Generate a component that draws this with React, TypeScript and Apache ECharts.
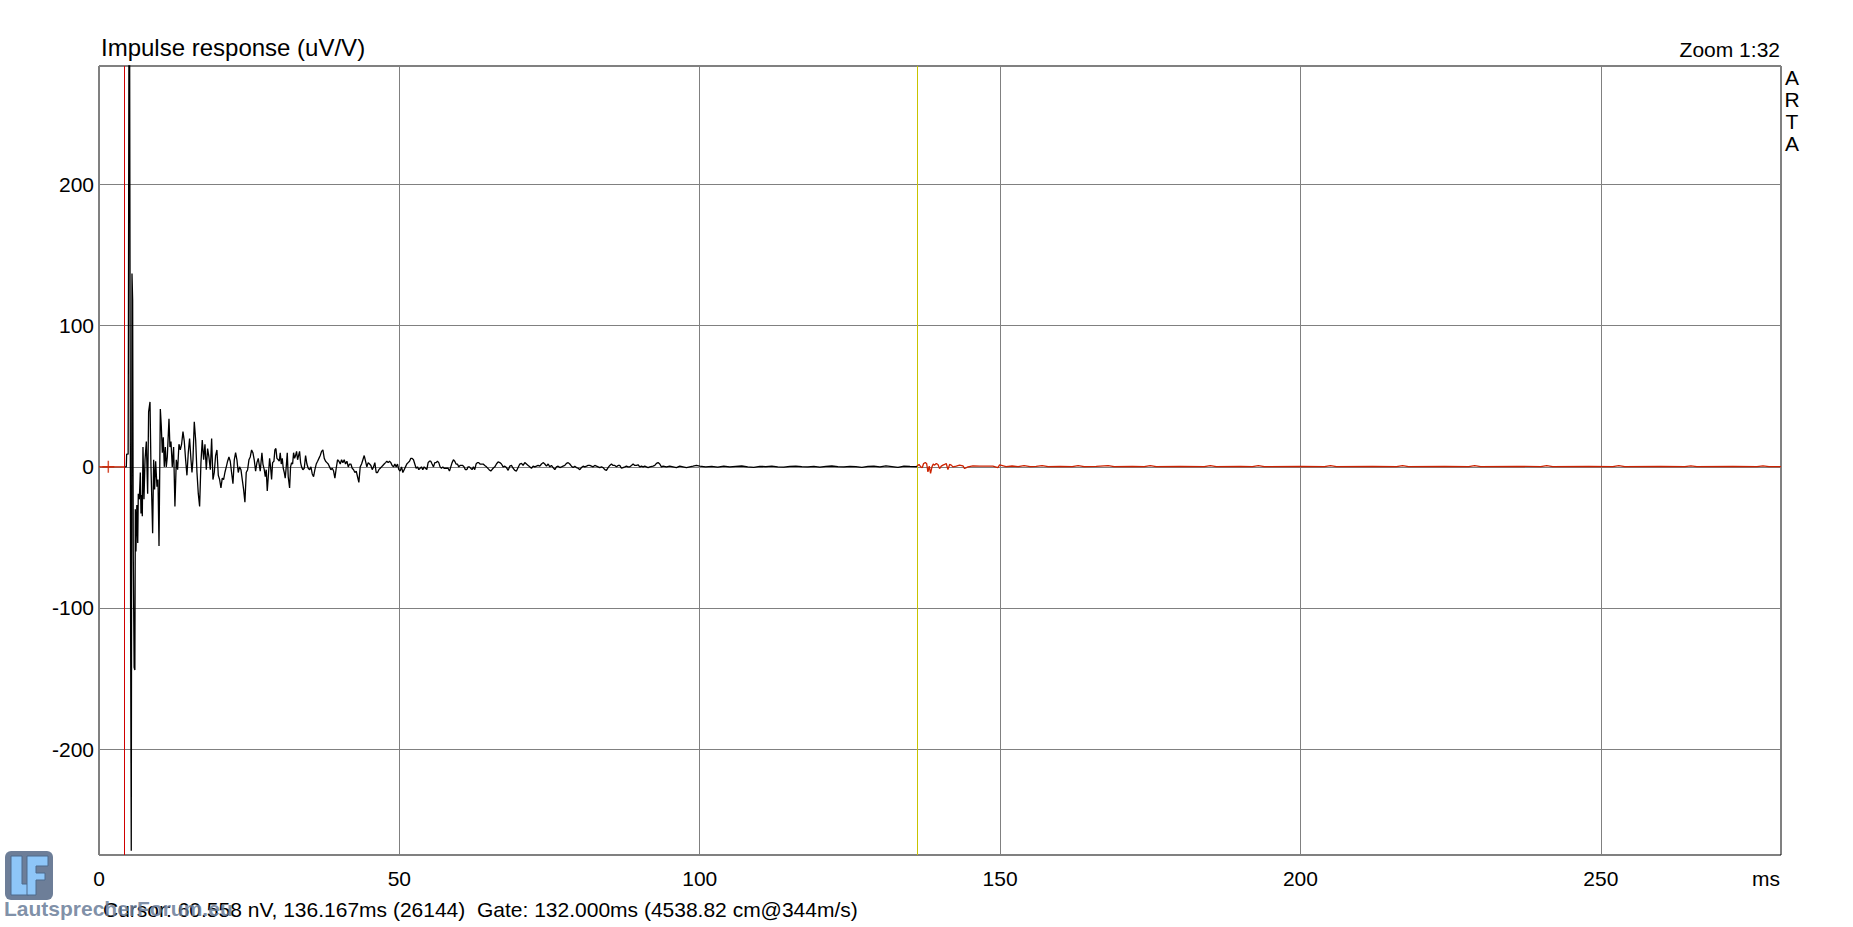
import React, { useEffect, useRef } from "react";
import * as echarts from "echarts";

// ---- axes ----
const X_MIN = 0;
const X_MAX = 280;
const X_INTERVAL = 50;
const Y_MIN = -275;
const Y_MAX = 284;

// ---- markers (ms) ----
const gateStartMs = 4.167;
const cursorMs = 136.167;
const crossMarker: [number, number][] = [[1.55, 0]];

// ---- texts ----
const titleText = "Impulse response (uV/V)";
const zoomText = "Zoom 1:32";
const unitText = "ms";
const brandText = "A\nR\nT\nA";
const footerText = "Cursor: 60.558 nV, 136.167ms (26144)  Gate: 132.000ms (4538.82 cm@344m/s)";
const watermarkText = "LautsprecherForum.eu";

// ---- data: [ms, uV/V] ----
const preGate: [number, number][] = [[0, 0], [4.167, 0]];

const onset: [number, number][] = [
  [4.167, 0], [4.55, 0], [4.6, 9], [4.85, 9], [4.9, 97], [5.04, 450], [5.15, 450],
  [5.27, -124], [5.37, -272], [5.49, 137], [5.6, 118], [5.7, -60], [5.85, -142],
  [5.97, -144], [6.05, -30], [6.15, -60], [6.3, -27], [6.45, -54],
];

const decayA: [number, number][] = [
  [6.54, -19], [6.71, -23], [6.88, -4], [6.99, -33], [7.10, -20], [7.21, -35], [7.32, 14],
  [7.49, -23], [7.66, 5], [7.88, 18], [8.10, -19], [8.26, 39], [8.49, 46], [8.65, 0],
  [8.82, -28], [8.93, -47], [9.10, 5], [9.26, -16], [9.43, 4], [9.65, -14], [9.82, -9],
  [9.99, -56], [10.21, 41], [10.37, 29], [10.54, 10], [10.70, 21], [10.87, 0], [11.04, 14],
  [11.20, 0], [11.37, 7], [11.65, 34], [11.81, 14], [11.98, 18], [12.20, 0], [12.42, 14],
  [12.64, -28], [12.87, 5], [13.09, -2], [13.31, 16], [13.53, 12], [13.75, 16], [13.98, 25],
  [14.20, 18], [14.42, 5], [14.64, -6], [14.86, 10], [15.08, 20], [15.31, 5], [15.48, -4],
  [15.64, 5], [15.86, 32], [16.09, 19], [16.31, -4], [16.53, -19], [16.75, -28], [16.97, 3],
  [17.19, 19], [17.42, 5], [17.64, 16], [17.86, -2], [18.08, 13], [18.30, 7], [18.53, -2],
  [18.75, 20], [18.97, -9], [19.19, -4], [19.41, 8], [19.63, 12], [19.86, -6], [20.08, -9],
  [20.30, -15], [20.52, -8], [20.74, -9], [20.96, -4], [21.19, 0], [21.41, 4], [21.63, 7],
  [21.85, 4], [22.07, -4], [22.30, -12], [22.52, 5], [22.74, 10], [22.96, 5], [23.18, -4],
  [23.40, 0], [23.63, -2], [23.85, -9], [24.07, -16], [24.29, -25], [24.51, -4], [24.74, -2],
  [24.96, 5], [25.18, 7], [25.40, 12], [25.62, 10], [25.84, 5],
];

const decayB: [number, number][] = [
  [26.07, -3], [26.29, 3], [26.51, 6], [26.84, -3], [27.12, 10], [27.29, 2], [27.51, -2],
  [27.68, -7], [27.84, -2], [28.01, -17], [28.18, -7], [28.40, 6], [28.56, 0], [28.73, -9],
  [28.90, 3], [29.12, 4], [29.28, 12], [29.45, 13], [29.62, 6], [29.84, 5], [30.01, 4],
  [30.17, 10], [30.34, 2], [30.51, 6], [30.67, -1], [30.84, -4], [31.00, -8], [31.17, 0],
  [31.34, 10], [31.50, -7], [31.73, -15], [31.89, 0], [32.06, 3], [32.23, 2], [32.39, 10],
  [32.56, 6], [32.72, 8], [32.89, 11], [33.06, 5], [33.22, 8], [33.39, 11], [33.56, 3],
  [33.72, 0], [33.94, -2], [34.17, -1], [34.39, 8], [34.61, 2], [34.83, -1], [35.06, -2],
  [35.28, 0], [35.50, -5], [35.72, -7], [35.94, -2], [36.16, 2], [36.39, 4], [36.61, 6],
  [36.83, 8], [37.05, 11], [37.27, 12], [37.50, 6], [37.72, 4], [37.94, 3], [38.16, 2],
  [38.38, 0], [38.60, -2], [38.83, -1], [39.05, -3], [39.27, -8], [39.49, -1], [39.71, 5],
  [39.94, 4], [40.16, 2], [40.38, 5], [40.60, 3], [40.82, 5], [41.04, 2], [41.27, 4],
  [41.49, 0], [41.71, 2], [41.93, 2], [42.15, -1], [42.38, -2], [42.60, -4], [42.82, -3],
  [43.04, -7], [43.26, -11], [43.48, 0], [43.71, 2], [43.93, 5], [44.15, 8], [44.37, 4],
  [44.59, 0], [44.81, 3], [45.04, 2], [45.26, 1], [45.48, -2], [45.70, 0], [45.92, 3],
  [46.14, -4], [46.37, -4], [46.59, -2], [46.81, -1], [47.03, 0], [47.25, 1], [47.47, 2],
  [47.70, 3], [47.92, 4], [48.14, 3], [48.36, 4], [48.58, 3], [48.80, 1], [49.03, 0],
  [49.25, 2], [49.47, 0], [49.69, 2], [49.91, -2], [50.13, -3], [50.36, 0], [50.58, -4],
  [50.80, -2], [51.02, 0], [51.24, 2], [51.46, 3], [51.69, 4], [51.91, 6], [52.13, 6],
  [52.35, 5], [52.57, 2], [52.79, -1], [53.02, 0], [53.24, -2], [53.46, -1], [53.68, 0],
  [53.90, -2], [54.12, 0], [54.35, -1], [54.57, -2], [54.79, 3], [55.01, 4], [55.23, 4],
  [55.45, 2], [55.68, 0], [55.90, 3], [56.12, 3], [56.34, 4], [56.56, 3], [56.78, 0],
  [57.01, -1], [57.23, 0], [57.45, -1], [57.67, -1], [57.89, -1], [58.11, -1], [58.34, -3],
  [58.56, 0], [58.78, 3], [59.00, 5], [59.22, 4], [59.44, 2], [59.67, 2], [59.89, 0],
  [60.11, 1], [60.33, 1], [60.55, 1], [60.77, 0], [61.00, -2], [61.22, -2], [61.44, 0],
  [61.66, 0], [61.88, -1], [62.10, -2], [62.33, 0], [62.55, -2], [62.77, 2], [62.99, 3],
  [63.21, 3], [63.43, 2],
];

const tailA: [number, number][] = [
  [63.95, 2], [64.22, 1], [64.50, 0], [64.94, -2], [65.22, -3], [65.61, -1], [65.89, 0],
  [66.16, 2], [66.44, 3.5], [66.72, 3], [67.00, 2], [67.27, 0], [67.55, 0.5], [67.83, -0.5],
  [68.11, -2.5], [68.38, 0.5], [68.66, 1], [68.94, -1], [69.22, -2.5], [69.49, -3],
  [69.77, -0.5], [70.05, 2], [70.33, 2.5], [70.60, 1], [70.88, 3], [71.16, 2], [71.44, 1],
  [71.71, 0], [71.99, -1], [72.27, 0.5], [72.55, 0], [72.82, 0.5], [73.10, 1], [73.38, 0.5],
  [73.66, 2], [73.93, 3], [74.21, 2], [74.49, 0.5], [74.77, 2], [75.04, 0], [75.32, 1],
  [75.60, -0.5], [75.88, -2], [76.15, 0], [76.43, 0.5], [76.71, -0.5], [76.99, 0], [77.26, 0.5],
  [77.54, 1], [77.82, 2.5], [78.10, 3], [78.37, 2], [78.65, 0.5], [78.93, -0.5], [79.20, 0.5],
  [79.48, -0.5], [79.76, -1], [80.04, -2], [80.31, -0.5], [80.59, 0.5], [80.87, 0], [81.15, 0.5],
  [81.42, 1], [81.70, 1], [81.98, 0.5], [82.26, 0], [82.53, 1], [82.81, 0.5], [83.09, 0],
  [83.36, -0.5], [83.64, 0], [83.92, -0.5], [84.20, -2], [84.47, -2.5], [84.75, -0.5],
  [85.03, 1], [85.31, 2], [85.58, 1], [85.86, 1], [86.14, 0], [86.42, 1], [86.69, 1],
  [86.97, -1], [87.25, -0.5], [87.53, 0], [87.80, 0.5], [88.08, 0], [88.36, 0], [88.64, 1],
  [88.91, 2], [89.19, 1], [89.47, 1], [89.74, 1.5], [90.02, 0], [90.30, 0.5], [90.58, 0],
  [90.85, 0.5], [91.13, 0], [91.41, -0.5], [91.69, 0], [92.24, 0.5], [92.52, 1], [92.80, 2.5],
  [93.07, 3], [93.35, 2], [93.63, 0], [93.91, 0.5], [94.46, 0], [95.01, 0.5], [95.57, 0],
  [96.12, -0.5], [96.68, 0.5], [97.23, 0], [97.79, -0.5], [98.34, 0], [98.90, 0.5],
  [99.45, 1], [100.0, 0.5],
];

const tailB: [number, number][] = [
  [101, 0], [102, 0.3], [103, -0.2], [104, 0.5], [105, 0], [106, 0.3], [107, 0.6], [108, 0],
  [109, -0.3], [110, 0.4], [111, 0.2], [112, 0.5], [113, 0], [114, -0.2], [115, 0.3],
  [116, 0.5], [117, 0.2], [118, 0], [119, 0.4], [120, -0.2], [121, 0.3], [122, 0.6],
  [123, 0.2], [124, 0], [125, 0.4], [126, 0.2], [127, -0.3], [128, 0.3], [129, 0.5],
  [130, 0], [131, 0.7], [132, 0.2], [133, -0.3], [134, 0.5], [135, 0.3], [136, 0.2],
  [136.167, 0.4],
];

const postGate: [number, number][] = [
  [136.167, 0.4], [136.5, 1.7], [136.8, 0], [137.05, -0.5], [137.27, 2.4], [137.55, 3],
  [137.77, 2.4], [137.99, -3.5], [138.21, 0.5], [138.43, -4.7], [138.66, 0], [138.88, 2],
  [139.10, 1.2], [139.38, 2.4], [139.66, 1.7], [139.93, -1.2], [140.21, 0.5], [140.49, 1.2],
  [140.77, 1.7], [141.04, 2.4], [141.32, -2], [141.60, 1.7], [141.88, 1.2], [142.15, 0],
  [142.71, 0.5], [143.26, 1.2], [143.82, 0.7], [144.1, -1.2], [144.65, 0], [145.48, 0.7],
  [146.59, 0.5], [147.70, 0.5], [148.81, 0.5], [149.64, -0.5], [149.92, 1.4], [151, 0.2],
  [152, 0.6], [153, 0.1], [154, 0.8], [155, 0.2], [156, 0.3], [157, 0.9], [158, 0.2],
  [160, 0.4], [162, 0.1], [163, 0.8], [164, 0.2], [166, 0.3], [168, 0.9], [169, 0.2],
  [172, 0.4], [174, 0.1], [175, 0.8], [176, 0.2], [180, 0.4], [184, 0.2], [185, 0.9],
  [186, 0.2], [190, 0.4], [192, 0.1], [193, 0.8], [194, 0.2], [200, 0.3], [204, 0.2],
  [205, 0.8], [206, 0.2], [212, 0.4], [216, 0.1], [217, 0.8], [218, 0.2], [224, 0.3],
  [228, 0.2], [229, 0.8], [230, 0.2], [236, 0.3], [240, 0.2], [241, 0.9], [242, 0.2],
  [248, 0.3], [252, 0.2], [253, 0.8], [254, 0.2], [260, 0.3], [264, 0.1], [265, 0.7],
  [266, 0.2], [272, 0.3], [276, 0.2], [277, 0.7], [278, 0.2], [280, 0.2],
];

const FONT = "'Liberation Sans', Arial, Helvetica, sans-serif";

function txt(x: number, y: number, text: string, size: number, align: string, valign: string, extra: any = {}) {
  return {
    type: "text",
    x,
    y,
    z: 100,
    style: {
      text,
      font: `${extra.weight || "normal"} ${size}px ${FONT}`,
      fill: extra.fill || "#000",
      opacity: extra.opacity ?? 1,
      align,
      textAlign: align,
      verticalAlign: valign,
      textVerticalAlign: valign,
      lineHeight: extra.lineHeight,
    },
  };
}

export default function App() {
  const ref = useRef<HTMLDivElement>(null);
  useEffect(() => {
    if (!ref.current) return;
    const chart = echarts.init(ref.current, null, { renderer: "svg" });
    const blackTrace = [...onset, ...decayA, ...decayB, ...tailA, ...tailB];
    const option: any = {
      animation: false,
      backgroundColor: "#ffffff",
      grid: {
        left: 99,
        top: 66,
        right: 72,
        bottom: 72,
        show: true,
        borderColor: "#000",
        borderWidth: 1,
        backgroundColor: "transparent",
        containLabel: false,
      },
      xAxis: {
        type: "value",
        min: X_MIN,
        max: X_MAX,
        interval: X_INTERVAL,
        axisLine: { show: false },
        axisTick: { show: false },
        axisLabel: {
          show: true,
          showMaxLabel: false,
          margin: 13,
          fontSize: 21,
          fontFamily: FONT,
          color: "#000",
        },
        splitLine: { show: true, lineStyle: { color: "#808080", width: 1 } },
      },
      yAxis: {
        type: "value",
        min: Y_MIN,
        max: Y_MAX,
        splitNumber: 5,
        axisLine: { show: false },
        axisTick: { show: false },
        axisLabel: {
          show: true,
          showMinLabel: false,
          showMaxLabel: false,
          margin: 5,
          fontSize: 21,
          fontFamily: FONT,
          color: "#000",
        },
        splitLine: { show: true, lineStyle: { color: "#808080", width: 1 } },
      },
      series: [
        {
          type: "line",
          data: preGate,
          showSymbol: false,
          lineStyle: { color: "#cc2200", width: 1.3 },
          z: 3,
        },
        {
          type: "line",
          data: blackTrace,
          showSymbol: false,
          lineStyle: { color: "#000000", width: 1.3 },
          z: 4,
          markLine: {
            silent: true,
            symbol: "none",
            label: { show: false },
            data: [
              { xAxis: gateStartMs, lineStyle: { color: "#d00000", width: 1, type: "solid" } },
              { xAxis: cursorMs, lineStyle: { color: "#c8c400", width: 1, type: "solid" } },
            ],
          },
        },
        {
          type: "line",
          data: postGate,
          showSymbol: false,
          lineStyle: { color: "#cc2200", width: 1.3 },
          z: 5,
        },
        {
          type: "scatter",
          data: crossMarker,
          symbol: "path://M5,0L5,10M0,5L10,5",
          symbolSize: [12, 12],
          itemStyle: { color: "transparent", borderColor: "#cc2200", borderWidth: 1.5 },
          z: 6,
        },
      ],
      graphic: [
        txt(101, 47, titleText, 24, "left", "middle"),
        txt(1780, 49, zoomText, 21, "right", "middle"),
        txt(1792, 66, brandText, 21, "center", "top", { lineHeight: 22 }),
        txt(1780, 878, unitText, 21, "right", "middle"),
        txt(103, 909, footerText, 21, "left", "middle"),
        {
          type: "rect",
          z: 90,
          shape: { x: 5, y: 851, width: 48, height: 49, r: 6 },
          style: { fill: "#6d7e98" },
        },
        {
          type: "polygon",
          z: 91,
          shape: { points: [[11, 856], [22, 856], [22, 884], [29, 884], [29, 895], [11, 895]] },
          style: { fill: "#8ec6f8", stroke: "#4f6a8c", lineWidth: 1 },
        },
        {
          type: "polygon",
          z: 92,
          shape: { points: [[27, 856], [48, 856], [48, 866], [36, 866], [36, 873], [45, 873], [45, 880], [36, 880], [36, 895], [27, 895]] },
          style: { fill: "#8ec6f8", stroke: "#4f6a8c", lineWidth: 1 },
        },
        txt(4, 908, watermarkText, 21, "left", "middle", { weight: "bold", fill: "#6a7d99", opacity: 0.85 }),
      ],
    };
    chart.setOption(option);
    return () => chart.dispose();
  }, []);
  return (
    <div
      ref={ref}
      style={{ position: "fixed", left: 0, top: 0, width: 1853, height: 927, background: "#fff" }}
    />
  );
}
